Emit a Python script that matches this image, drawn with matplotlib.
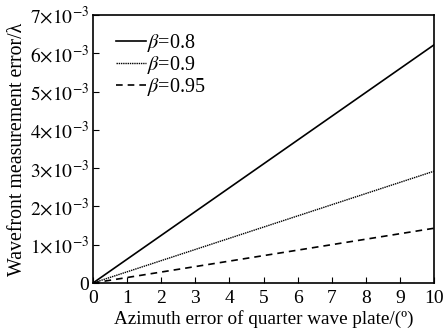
import matplotlib
matplotlib.use("Agg")
import matplotlib.pyplot as plt
import numpy as np

plt.rcParams['font.family'] = ['Liberation Serif', 'DejaVu Serif']
plt.rcParams['mathtext.fontset'] = 'stix'

azimuth = [0, 10]
beta_08 = [0, 6.22e-3]
beta_09 = [0, 2.92e-3]
beta_095 = [0, 1.43e-3]
labels = [r'$\beta$=0.8', r'$\beta$=0.9', r'$\beta$=0.95']
ytick_vals = [0, 1e-3, 2e-3, 3e-3, 4e-3, 5e-3, 6e-3, 7e-3]
ytick_labels = ['0'] + [r'$%d{\times}10^{-3}$' % i for i in range(1, 8)]

fig = plt.figure(figsize=(4.43, 3.31), dpi=100)
ax = fig.add_axes([93/443, 1 - 283/331, (434-93)/443, (283-15)/331])

ax.plot(azimuth, beta_08, color='black', lw=1.2, ls='-', label=labels[0])
ax.plot(azimuth, beta_09, color='black', lw=1.0, ls=(0, (1, 0.6)), label=labels[1])
ax.plot(azimuth, beta_095, color='black', lw=1.2, ls=(0, (4, 3)), label=labels[2])

ax.set_xlim(0, 10)
ax.set_ylim(0, 7e-3)
ax.set_xticks(range(0, 11))
ax.set_yticks(ytick_vals)
ax.set_yticklabels(ytick_labels)
ax.tick_params(axis='x', direction='in', length=4, labelsize=14, pad=5)
ax.tick_params(axis='y', direction='in', length=4, labelsize=14, pad=3)
for s in ax.spines.values():
    s.set_linewidth(1.2)
ax.set_xlabel('Azimuth error of quarter wave plate/(º)', fontsize=13.8, labelpad=2)
ax.set_ylabel('Wavefront measurement error/λ', fontsize=14.3, labelpad=2)

leg = ax.legend(loc='upper left', frameon=False, fontsize=14.5, handlelength=1.5,
                handletextpad=0.05, labelspacing=0.0, borderaxespad=0, borderpad=0,
                bbox_to_anchor=(0.067, 0.935))

fig.savefig('out.png', dpi=100)
